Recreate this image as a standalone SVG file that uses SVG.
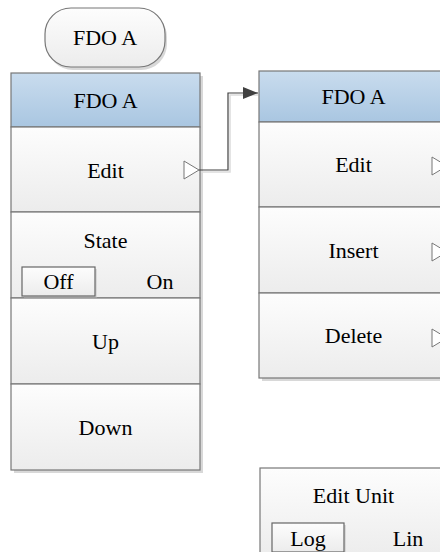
<svg xmlns="http://www.w3.org/2000/svg" width="440" height="552" viewBox="0 0 440 552" font-family="'Liberation Serif', 'Times New Roman', 'DejaVu Serif', serif">
<defs>
<linearGradient id="gCell" x1="0" y1="0" x2="0" y2="1">
<stop offset="0" stop-color="#fdfdfd"/>
<stop offset="1" stop-color="#ececec"/>
</linearGradient>
<linearGradient id="gHead" x1="0" y1="0" x2="0" y2="1">
<stop offset="0" stop-color="#c9dcee"/>
<stop offset="1" stop-color="#a9c6e1"/>
</linearGradient>
<marker id="arr" markerWidth="16" markerHeight="12" refX="15" refY="6" orient="auto" markerUnits="userSpaceOnUse">
<path d="M0,0 L15,6 L0,12 Z" fill="#404040"/>
</marker>
</defs>
<style>
.t{font-family:'Liberation Serif','Times New Roman','DejaVu Serif',serif;font-size:22px;fill:#000;text-anchor:middle}
.cell{fill:url(#gCell);stroke:#777;stroke-width:1.2}
.head{fill:url(#gHead);stroke:#777;stroke-width:1.2}
.sh{fill:#d8d8d8;stroke:none}
.tri{fill:#fff;stroke:#777;stroke-width:1}
.btn{fill:url(#gCell);stroke:#666;stroke-width:1.2}
.conn{fill:none;stroke:#404040;stroke-width:1.2}
.connsh{fill:none;stroke:#dcdcdc;stroke-width:1.5}
</style>

<g id="title">
<rect x="47" y="11" width="120" height="59" rx="26" class="sh"/>
<rect x="45" y="8" width="120" height="59" rx="26" class="cell"/>
<text class="t" x="105" y="45">FDO A</text>
</g>

<g id="left-menu">
<rect x="14" y="76" width="189" height="397" class="sh"/>
<g id="left-header">
<rect x="11" y="73" width="189" height="54" class="head"/>
<text class="t" x="105.5" y="107.5">FDO A</text>
</g>
<g id="left-edit">
<rect x="11" y="127" width="189" height="85" class="cell"/>
<text class="t" x="105.5" y="177.5">Edit</text>
<path d="M184,161 L199,170 L184,179 Z" class="tri"/>
</g>
<g id="left-state">
<rect x="11" y="212" width="189" height="86" class="cell"/>
<text class="t" x="105.5" y="248">State</text>
<rect x="24" y="269" width="73" height="29" class="sh"/>
<rect x="22" y="267" width="73" height="29" class="btn"/>
<text class="t" x="58.5" y="289">Off</text>
<text class="t" x="160" y="289">On</text>
</g>
<g id="left-up">
<rect x="11" y="298" width="189" height="86" class="cell"/>
<text class="t" x="105.5" y="348.5">Up</text>
</g>
<g id="left-down">
<rect x="11" y="384" width="189" height="86" class="cell"/>
<text class="t" x="105.5" y="434.5">Down</text>
</g>
</g>

<g id="right-menu">
<rect x="262" y="74" width="189" height="307" class="sh"/>
<g id="right-header">
<rect x="259" y="71" width="189" height="51" class="head"/>
<text class="t" x="353.5" y="104">FDO A</text>
</g>
<g id="right-edit">
<rect x="259" y="122" width="189" height="85" class="cell"/>
<text class="t" x="353.5" y="172">Edit</text>
<path d="M432,157 L447,166 L432,175 Z" class="tri"/>
</g>
<g id="right-insert">
<rect x="259" y="207" width="189" height="86" class="cell"/>
<text class="t" x="353.5" y="257.5">Insert</text>
<path d="M432,243 L447,252 L432,261 Z" class="tri"/>
</g>
<g id="right-delete">
<rect x="259" y="293" width="189" height="85" class="cell"/>
<text class="t" x="353.5" y="343">Delete</text>
<path d="M432,329 L447,338 L432,347 Z" class="tri"/>
</g>
</g>

<g id="edit-unit">
<rect x="263" y="471" width="189" height="90" class="sh"/>
<rect x="260" y="468" width="189" height="90" class="cell"/>
<text class="t" x="353.5" y="503">Edit Unit</text>
<rect x="274" y="525" width="72" height="29" class="sh"/>
<rect x="272" y="523" width="72" height="29" class="btn"/>
<text class="t" x="308" y="546">Log</text>
<text class="t" x="408" y="546">Lin</text>
</g>

<g id="connectors">
<path d="M201,172 L230,172 L230,95 L258,95" class="connsh"/>
<path d="M199,170 L228,170 L228,93 L258,93" class="conn" marker-end="url(#arr)"/>
</g>
</svg>
